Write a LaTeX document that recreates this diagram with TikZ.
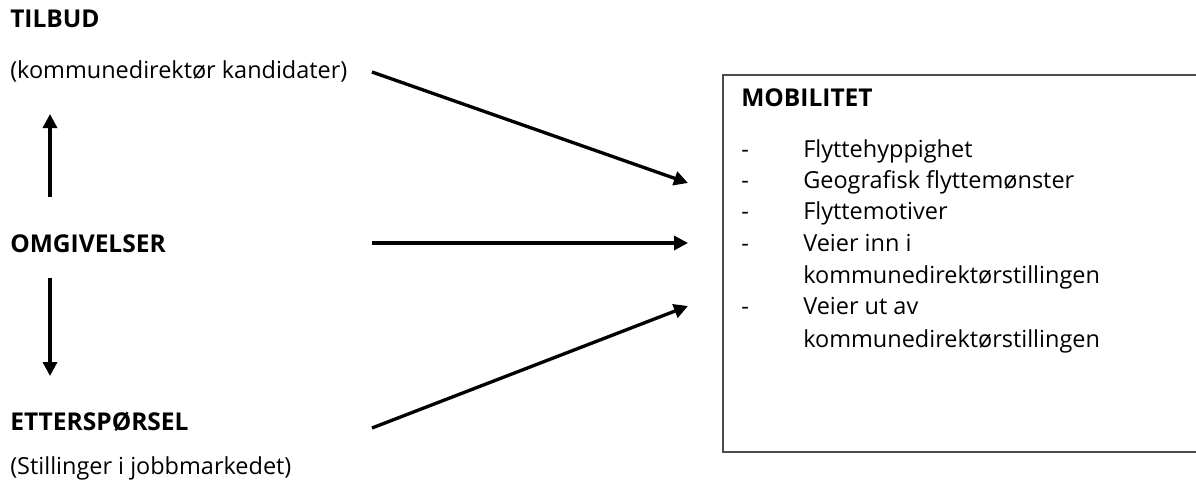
\documentclass[tikz,border=0pt]{standalone}
\usepackage{fontspec}
\setmainfont{Open Sans}
\usetikzlibrary{arrows.meta}
\begin{document}
\begin{tikzpicture}[x=0.75pt,y=-0.75pt,
  lbl/.style={anchor=base west, inner sep=0pt, font=\fontsize{17.6}{20}\selectfont},
  head/.style={anchor=base west, inner sep=0pt, font=\fontsize{18.4}{20}\selectfont\bfseries},
  flow/.style={line width=2.5pt, -{Triangle[length=10.5pt,width=10.5pt]}},
  frame/.style={draw=black!70, line width=1.1pt}]
\useasboundingbox (0,0) rectangle (1196,486);

% left column
\node[head] (tilbud) at (10,27) {TILBUD};
\node[lbl]  (tilbudsub) at (10,78) {(kommunedirektør kandidater)};
\node[head] (omg) at (10,252) {OMGIVELSER};
\node[head] (ett) at (10,430) {ETTERSPØRSEL};
\node[lbl]  (ettsub) at (10,474) {(Stillinger i jobbmarkedet)};

\coordinate (upS) at (50,197);   \coordinate (upE) at (50,114);
\coordinate (dnS) at (50,278);   \coordinate (dnE) at (50,376);
\draw[flow] (upS) -- (upE);
\draw[flow] (dnS) -- (dnE);

% arrows into the mobility box
\coordinate (a1S) at (372,72);  \coordinate (a1E) at (688,183);
\coordinate (a2S) at (372,243); \coordinate (a2E) at (688,243);
\coordinate (a3S) at (372,428); \coordinate (a3E) at (688,306);
\draw[flow] (a1S) -- (a1E);
\draw[flow] (a2S) -- (a2E);
\draw[flow] (a3S) -- (a3E);

% mobility box (runs past the right edge)
\draw[frame] (1200,75) -- (723,75) -- (723,452) -- (1200,452);
\node[head] (mob) at (741,106) {MOBILITET};
\foreach \y/\t [count=\i] in {157/Flyttehyppighet, 188/Geografisk flyttemønster, 219/Flyttemotiver, 251/Veier inn i, 314/Veier ut av}{
  \node[lbl] (dash\i) at (741,\y) {-};
  \node[lbl] (item\i) at (803,\y) {\t};
}
\node[lbl] (item4b) at (803,283) {kommunedirektørstillingen};
\node[lbl] (item5b) at (803,347) {kommunedirektørstillingen};
\end{tikzpicture}
\end{document}
